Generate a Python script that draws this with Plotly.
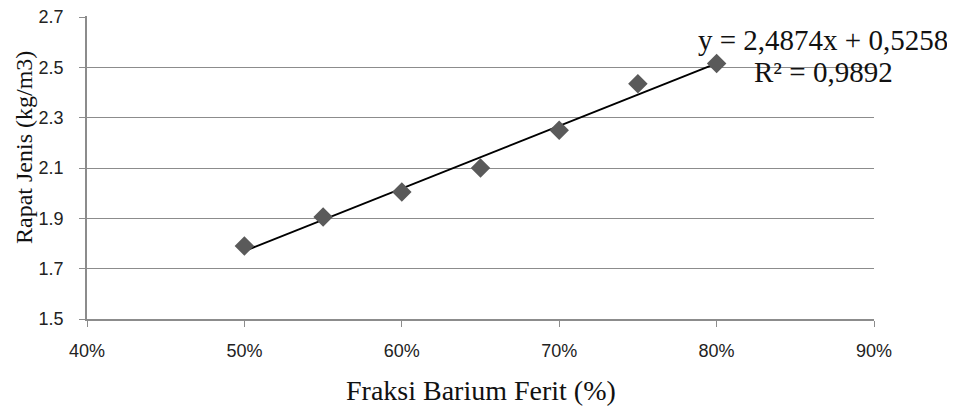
import numpy as np
import plotly.graph_objects as go

fraksi = [0.50, 0.55, 0.60, 0.65, 0.70, 0.75, 0.80]
rapat_jenis = [1.79, 1.905, 2.005, 2.10, 2.25, 2.435, 2.515]
x_ticks = [0.4, 0.5, 0.6, 0.7, 0.8, 0.9]
x_tick_labels = ["40%", "50%", "60%", "70%", "80%", "90%"]
y_ticks = [1.5, 1.7, 1.9, 2.1, 2.3, 2.5, 2.7]
y_tick_labels = ["1.5", "1.7", "1.9", "2.1", "2.3", "2.5", "2.7"]
equation_lines = ["y = 2,4874x + 0,5258", "R² = 0,9892"]

# linear trendline (least squares, as in the spreadsheet trendline)
slope, intercept = np.polyfit(fraksi, rapat_jenis, 1)
trend_x = [min(fraksi), max(fraksi)]
trend_y = [slope * v + intercept for v in trend_x]

# page has an 8px body margin; plot area target in page px: x 87..874, y 16..319
OFF = 8
W, H = 955 - OFF, 406 - OFF
PX0, PX1, PY0, PY1 = 87, 874, 16, 319
L, R, T, B = PX0 - OFF, 955 - PX1, PY0 - OFF, 406 - PY1
PW, PH = PX1 - PX0, PY1 - PY0
Y_TOP = y_ticks[-1] + (y_ticks[-1] - y_ticks[0]) / (PH - 1)  # ~1px head-room so top gridline draws


def px(xp):
    return (xp - PX0) / PW


def py(yp):
    return (PY1 - yp) / PH


fig = go.Figure()
fig.add_trace(go.Scatter(
    x=trend_x, y=trend_y, mode="lines",
    line=dict(color="black", width=2), showlegend=False, hoverinfo="skip"))
fig.add_trace(go.Scatter(
    x=fraksi, y=rapat_jenis, mode="markers",
    marker=dict(symbol="diamond", size=15, color="#5a5a5a"),
    showlegend=False))

grid = "#8c8c8c"
tickfont = dict(family="Liberation Sans, Arial, sans-serif", size=18, color="#222")
serif = "Liberation Serif, Times New Roman, serif"
fig.update_layout(
    width=W, height=H,
    margin=dict(l=L, r=R, t=T, b=B, autoexpand=False),
    paper_bgcolor="white", plot_bgcolor="white",
    xaxis=dict(range=[x_ticks[0], x_ticks[-1]], tickmode="array",
               tickvals=x_ticks, ticktext=x_tick_labels, automargin=False,
               showgrid=False, zeroline=False, showline=True,
               linecolor=grid, linewidth=1.5, ticks="outside", ticklen=6,
               tickcolor=grid, ticklabelstandoff=9, tickfont=tickfont),
    yaxis=dict(range=[y_ticks[0], Y_TOP], tickmode="array",
               tickvals=y_ticks, ticktext=y_tick_labels, automargin=False,
               showgrid=True, gridcolor=grid, gridwidth=1.3, zeroline=False,
               showline=True, linecolor=grid, linewidth=1.5,
               ticks="outside", ticklen=6, tickcolor=grid,
               ticklabelstandoff=12, ticklabeloverflow="allow", tickfont=tickfont),
    annotations=[
        dict(text="Fraksi Barium Ferit (%)", xref="paper", yref="paper",
             x=px(481), y=py(390), xanchor="center", yanchor="middle",
             showarrow=False, font=dict(family=serif, size=28, color="#111")),
        dict(text="Rapat Jenis (kg/m3)", xref="paper", yref="paper",
             x=px(24), y=py(148), xanchor="center", yanchor="middle",
             textangle=-90, showarrow=False,
             font=dict(family=serif, size=24, color="#111")),
        dict(text=equation_lines[0], xref="paper", yref="paper",
             x=px(823), y=py(40), xanchor="center", yanchor="middle",
             showarrow=False, font=dict(family=serif, size=29, color="#111")),
        dict(text=equation_lines[1], xref="paper", yref="paper",
             x=px(823), y=py(72), xanchor="center", yanchor="middle",
             showarrow=False, font=dict(family=serif, size=29, color="#111")),
    ],
)

fig.write_html("out.html")
